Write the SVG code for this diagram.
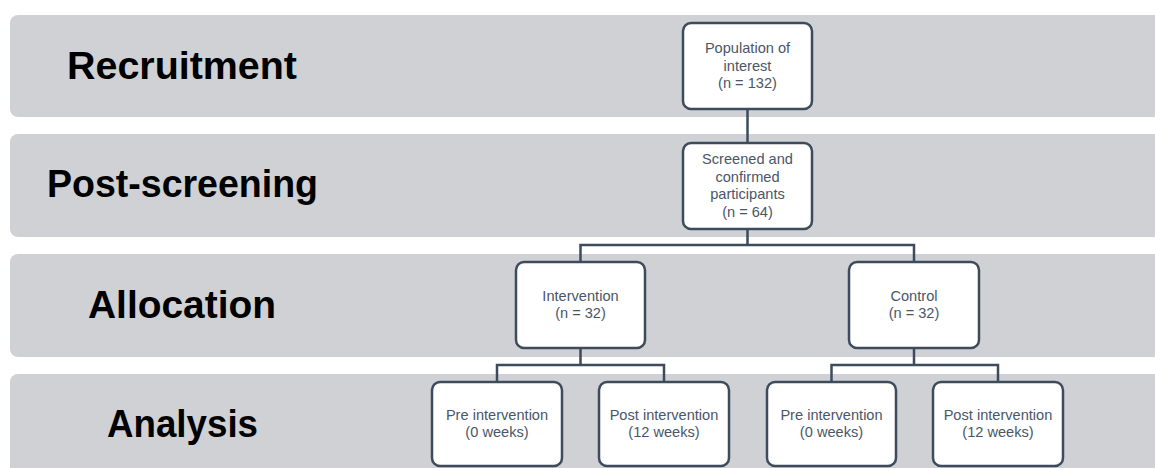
<svg xmlns="http://www.w3.org/2000/svg" width="1155" height="468" viewBox="0 0 1155 468">
<style>
.band{fill:#d0d1d5;}
.lbl{font-family:"Liberation Sans",Arial,sans-serif;font-weight:bold;font-size:38px;fill:#000;text-anchor:middle;}
.box{fill:#fff;stroke:#3d4b5c;stroke-width:2.5;}
.t{font-family:"Liberation Sans",Arial,sans-serif;font-size:14.6px;fill:#4a5668;text-anchor:middle;}
.con{fill:none;stroke:#3d4b5c;stroke-width:2.5;}
</style>
<rect width="1155" height="468" fill="#fff"/>
<g id="bands">
<rect class="band" x="10" y="15" width="1170" height="102" rx="8"/>
<rect class="band" x="10" y="134" width="1170" height="103" rx="8"/>
<rect class="band" x="10" y="254" width="1170" height="103" rx="8"/>
<rect class="band" x="10" y="374" width="1170" height="120" rx="8"/>
</g>
<g id="labels">
<text class="lbl" x="182" y="79" textLength="230" lengthAdjust="spacingAndGlyphs">Recruitment</text>
<text class="lbl" x="182.5" y="197" textLength="271" lengthAdjust="spacingAndGlyphs">Post-screening</text>
<text class="lbl" x="182" y="318" textLength="188" lengthAdjust="spacingAndGlyphs">Allocation</text>
<text class="lbl" x="182.5" y="437" textLength="151" lengthAdjust="spacingAndGlyphs">Analysis</text>
</g>
<g id="connectors">
<path class="con" d="M747.5,109V143"/>
<path class="con" d="M747.5,229V245M580.5,262V245H914V262"/>
<path class="con" d="M580.5,348V365M497,382V365H664V382"/>
<path class="con" d="M914,348V365M831.5,382V365H998V382"/>
</g>
<g id="population">
<rect class="box" x="683" y="23" width="129" height="86" rx="8"/>
<text class="t" x="747.5" y="53">Population of</text>
<text class="t" x="747.5" y="70.5">interest</text>
<text class="t" x="747.5" y="88">(n = 132)</text>
</g>
<g id="screened">
<rect class="box" x="683" y="143" width="129" height="86" rx="8"/>
<text class="t" x="747.5" y="164">Screened and</text>
<text class="t" x="747.5" y="181.5">confirmed</text>
<text class="t" x="747.5" y="199">participants</text>
<text class="t" x="747.5" y="216.5">(n = 64)</text>
</g>
<g id="intervention">
<rect class="box" x="516" y="262" width="129" height="86" rx="8"/>
<text class="t" x="580.5" y="300.5">Intervention</text>
<text class="t" x="580.5" y="318">(n = 32)</text>
</g>
<g id="control">
<rect class="box" x="849" y="262" width="130" height="86" rx="8"/>
<text class="t" x="914" y="300.5">Control</text>
<text class="t" x="914" y="318">(n = 32)</text>
</g>
<g id="int-pre">
<rect class="box" x="432" y="382" width="130" height="84" rx="8"/>
<text class="t" x="497" y="419.5">Pre intervention</text>
<text class="t" x="497" y="437">(0 weeks)</text>
</g>
<g id="int-post">
<rect class="box" x="599" y="382" width="130" height="84" rx="8"/>
<text class="t" x="664" y="419.5">Post intervention</text>
<text class="t" x="664" y="437">(12 weeks)</text>
</g>
<g id="ctl-pre">
<rect class="box" x="767" y="382" width="129" height="84" rx="8"/>
<text class="t" x="831.5" y="419.5">Pre intervention</text>
<text class="t" x="831.5" y="437">(0 weeks)</text>
</g>
<g id="ctl-post">
<rect class="box" x="933" y="382" width="130" height="84" rx="8"/>
<text class="t" x="998" y="419.5">Post intervention</text>
<text class="t" x="998" y="437">(12 weeks)</text>
</g>
</svg>
